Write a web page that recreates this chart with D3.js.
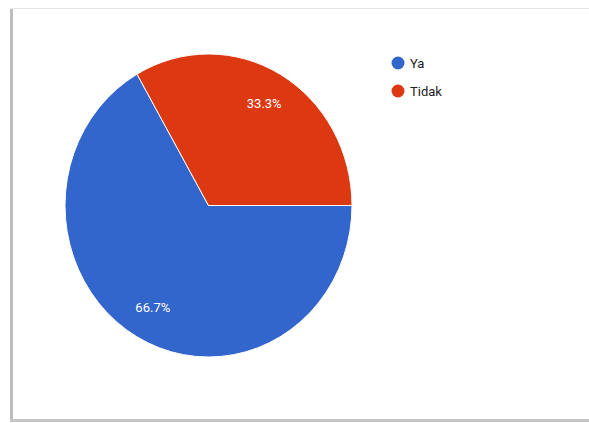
<!DOCTYPE html>
<html>
<head>
<meta charset="utf-8">
<script src="https://cdn.jsdelivr.net/npm/d3@7"></script>
<style>
  html, body { margin: 0; padding: 0; background: #fff; }
  svg { display: block; font-family: Roboto, Arial, sans-serif; }
</style>
</head>
<body>
<div id="chart"></div>
<script>
(function () {
    // data
    var labels = ["Ya", "Tidak"];
    var values = [66.7, 33.3];
    var colors = ["#3366cc", "#dc3912"];

    var width = 589, height = 423;
    var cx = 208.5, cy = 205.5, radius = 143.5;
    var stretchY = 151.5 / 143.5; // the screenshot is slightly taller than wide

    var svg = d3.select("#chart")
        .append("svg")
        .attr("width", width)
        .attr("height", height);

    // card frame with soft shadow on left / bottom
    svg.append("rect")
        .attr("x", 11).attr("y", 8.5)
        .attr("width", 590).attr("height", 412)
        .attr("fill", "#fff")
        .attr("stroke", "#e6e6e6")
        .attr("stroke-width", 1);
    svg.append("line")
        .attr("x1", 11.5).attr("x2", 11.5)
        .attr("y1", 9).attr("y2", 421)
        .attr("stroke", "#bdbdbd").attr("stroke-width", 3);
    svg.append("line")
        .attr("x1", 10).attr("x2", 589)
        .attr("y1", 420.5).attr("y2", 420.5)
        .attr("stroke", "#c4c4c4").attr("stroke-width", 3);

    var data = labels.map((d, i) => ({ name: d, value: values[i] }));
    var color = d3.scaleOrdinal(labels, colors);

    var pie = d3.pie()
        .sort(null)
        .value(d => d.value)
        .startAngle(Math.PI / 2)
        .endAngle(Math.PI / 2 + 2 * Math.PI);

    var arc = d3.arc().innerRadius(0).outerRadius(radius);
    var labelArc = d3.arc().innerRadius(radius * 0.775).outerRadius(radius * 0.775);

    var slices = pie(data);

    svg.append("g")
        .attr("transform", `translate(${cx},${cy}) scale(1,${stretchY})`)
        .selectAll("path")
        .data(slices)
        .join("path")
        .attr("d", arc)
        .attr("fill", d => color(d.data.name))
        .attr("stroke", "#fff")
        .attr("stroke-width", 1)
        .attr("vector-effect", "non-scaling-stroke");

    svg.append("g")
        .selectAll("text")
        .data(slices)
        .join("text")
        .attr("x", d => cx + labelArc.centroid(d)[0])
        .attr("y", d => cy + labelArc.centroid(d)[1] * stretchY)
        .attr("text-anchor", "middle")
        .attr("dy", "0.35em")
        .attr("fill", "#fff")
        .attr("font-size", 13)
        .text(d => d.data.value.toFixed(1) + "%");

    // legend
    var legend = svg.append("g")
        .selectAll("g")
        .data(labels)
        .join("g")
        .attr("transform", (d, i) => `translate(398,${63 + i * 28})`);

    legend.append("circle")
        .attr("r", 6.5)
        .attr("fill", d => color(d));

    legend.append("text")
        .attr("x", 12)
        .attr("dy", "0.35em")
        .attr("font-size", 13)
        .attr("fill", "#222")
        .text(d => d);
}());
</script>
</body>
</html>
